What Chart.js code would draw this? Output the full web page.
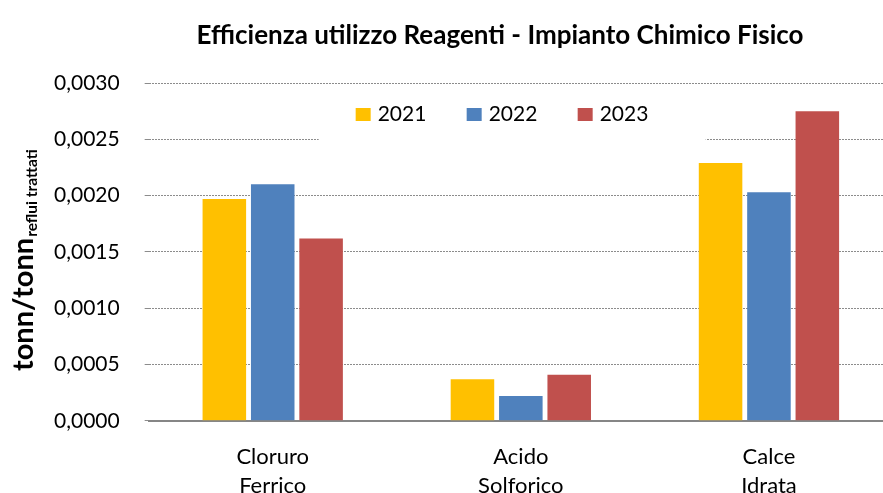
<!DOCTYPE html>
<html>
<head>
<meta charset="utf-8">
<script src="https://cdn.jsdelivr.net/npm/chart.js@4/dist/chart.umd.min.js"></script>
<style>
  html, body { margin: 0; padding: 0; background: #fff; overflow: hidden; }
  #wrap { width: 893px; height: 493px; }
</style>
</head>
<body>
<div id="wrap"><canvas id="reagenti"></canvas></div>
<script>
// dati
const categorie = [['Cloruro', 'Ferrico'], ['Acido', 'Solforico'], ['Calce', 'Idrata']];
const anni = ['2021', '2022', '2023'];
const valori2021 = [0.00197, 0.00037, 0.00229];
const valori2022 = [0.00210, 0.00022, 0.00203];
const valori2023 = [0.00162, 0.00041, 0.00275];
const colori = ['#FFC000', '#4F81BD', '#C0504D'];
const titolo = 'Efficienza utilizzo Reagenti - Impianto Chimico Fisico';

const fontName = 'Lato, "Open Sans", sans-serif';

// titolo del grafico e dell'asse y (con pedice)
const testi = {
    id: 'testi',
    afterDraw(chart) {
        const ctx = chart.ctx;
        ctx.save();
        ctx.fillStyle = '#000';
        ctx.font = 'bold 26px ' + fontName;
        ctx.textAlign = 'center';
        ctx.textBaseline = 'middle';
        ctx.fillText(titolo, 500, 36);

        ctx.textAlign = 'left';
        ctx.textBaseline = 'alphabetic';
        ctx.translate(33, 371);
        ctx.rotate(-Math.PI / 2);
        ctx.font = 'bold 29px ' + fontName;
        ctx.fillText('tonn/tonn', 0, 0);
        const w = ctx.measureText('tonn/tonn').width;
        ctx.font = 'bold 15.5px ' + fontName;
        ctx.fillText('reflui trattati', w + 1, 4);
        ctx.restore();
    }
};

// legenda dentro l'area del grafico, con sfondo bianco
const legendaInterna = {
    id: 'legendaInterna',
    afterDatasetsDraw(chart) {
        const ctx = chart.ctx;
        const a = chart.chartArea;
        ctx.save();
        ctx.fillStyle = '#fff';
        ctx.fillRect(a.left + 170, a.top + 10, 387, 49);
        ctx.font = '21px ' + fontName;
        ctx.textBaseline = 'middle';
        let x = a.left + 207;
        chart.data.datasets.forEach((ds, i) => {
            ctx.fillStyle = ds.backgroundColor;
            ctx.fillRect(x, a.top + 25, 15, 13);
            ctx.fillStyle = '#000';
            ctx.fillText(ds.label, x + 22, a.top + 31);
            x += 111;
        });
        ctx.restore();
    }
};

const ctx = document.getElementById('reagenti').getContext('2d');
const chart = new Chart(ctx, {
    type: 'bar',
    data: {
        labels: categorie,
        datasets: [
            { label: anni[0], data: valori2021, backgroundColor: colori[0] },
            { label: anni[1], data: valori2022, backgroundColor: colori[1] },
            { label: anni[2], data: valori2023, backgroundColor: colori[2] }
        ]
    },
    options: {
        responsive: true,
        maintainAspectRatio: false,
        animation: false,
        categoryPercentage: 0.585,
        barPercentage: 0.9,
        layout: { padding: { left: 29, right: 0, top: 83, bottom: -21 } },
        plugins: {
            legend: { display: false },
            tooltip: { enabled: false },
            title: { display: false }
        },
        scales: {
            x: {
                grid: { display: false },
                border: { display: true, color: '#868686', width: 2 },
                ticks: {
                    color: '#000',
                    font: { family: fontName, size: 22, lineHeight: 1.3 },
                    padding: 14
                }
            },
            y: {
                min: 0,
                max: 0.003,
                border: { display: false, dash: [2, 1] },
                grid: {
                    color: '#8c8c8c',
                    lineWidth: 1,
                    tickLength: 4,
                    tickColor: '#8c8c8c'
                },
                ticks: {
                    stepSize: 0.0005,
                    color: '#000',
                    font: { family: fontName, size: 21 },
                    padding: 25,
                    callback: v => v.toFixed(4).replace('.', ',')
                }
            }
        }
    },
    plugins: [testi, legendaInterna]
});
</script>
</body>
</html>
